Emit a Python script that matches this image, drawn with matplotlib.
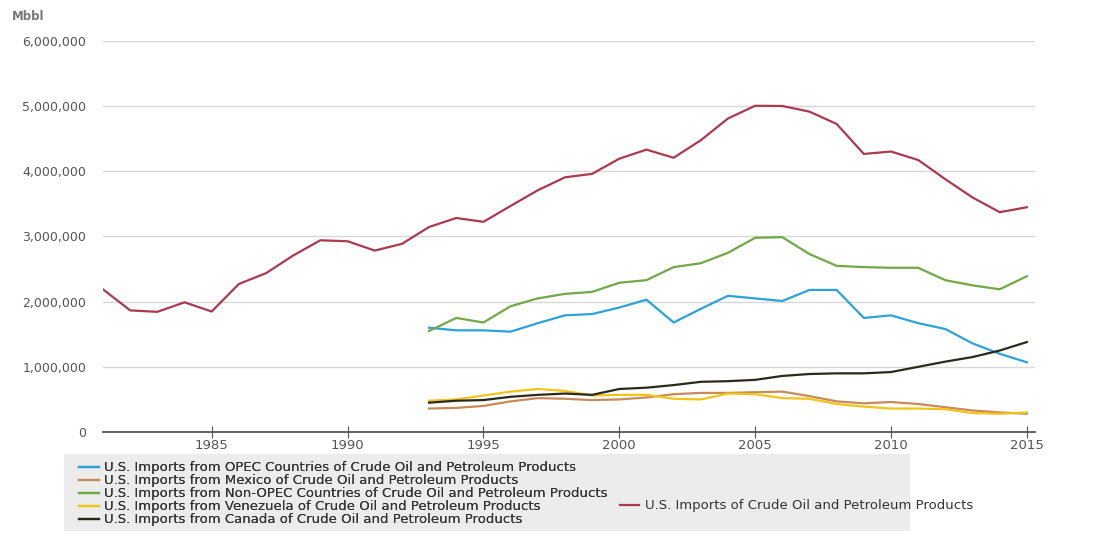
import numpy as np
import matplotlib
matplotlib.use("Agg")
import matplotlib.pyplot as plt
from matplotlib.patches import Rectangle
from matplotlib.ticker import FuncFormatter

years_total = list(range(1981, 2016))
total = [2189, 1866, 1844, 1990, 1849, 2272, 2437, 2709, 2942, 2927,
         2784, 2887, 3146, 3284, 3225, 3469, 3709, 3908, 3961, 4194,
         4333, 4208, 4477, 4811, 5006, 5003, 4916, 4727, 4267, 4304,
         4174, 3879, 3599, 3373, 3449]

years = list(range(1993, 2016))
opec = [1600, 1560, 1560, 1540, 1670, 1790, 1810, 1910, 2030, 1680,
        1890, 2090, 2050, 2010, 2180, 2180, 1750, 1790, 1670, 1580,
        1360, 1200, 1070]
mexico = [360, 370, 400, 470, 520, 510, 490, 500, 530, 580,
          600, 600, 610, 620, 550, 470, 440, 460, 430, 380,
          330, 300, 280]
non_opec = [1550, 1750, 1680, 1930, 2050, 2120, 2150, 2290, 2330, 2530,
            2590, 2750, 2980, 2990, 2730, 2550, 2530, 2520, 2520, 2330,
            2250, 2190, 2390]
venezuela = [480, 500, 560, 620, 660, 630, 560, 570, 570, 510,
             500, 590, 580, 520, 510, 430, 390, 360, 360, 350,
             290, 280, 300]
canada = [450, 480, 490, 540, 570, 590, 570, 660, 680, 720,
          770, 780, 800, 860, 890, 900, 900, 920, 1000, 1080,
          1150, 1250, 1380]

labels = [
    "U.S. Imports from OPEC Countries of Crude Oil and Petroleum Products",
    "U.S. Imports from Mexico of Crude Oil and Petroleum Products",
    "U.S. Imports from Non-OPEC Countries of Crude Oil and Petroleum Products",
    "U.S. Imports from Venezuela of Crude Oil and Petroleum Products",
    "U.S. Imports of Crude Oil and Petroleum Products",
    "U.S. Imports from Canada of Crude Oil and Petroleum Products",
]
colors = ["#2ba3d8", "#c98a5a", "#72a846", "#f2c41a", "#ab3a4e", "#2a2a1c"]

W, H = 1114, 533
fig = plt.figure(figsize=(W / 100, H / 100), dpi=100)
ax = fig.add_axes([103 / W, 1 - 432 / H, (1035 - 103) / W, (432 - 41) / H])

k = 1000  # values above in thousands of Mbbl
h_opec, = ax.plot(years, np.array(opec) * k, color=colors[0], lw=1.6)
h_mex, = ax.plot(years, np.array(mexico) * k, color=colors[1], lw=1.6)
h_non, = ax.plot(years, np.array(non_opec) * k, color=colors[2], lw=1.6)
h_ven, = ax.plot(years, np.array(venezuela) * k, color=colors[3], lw=1.6)
h_tot, = ax.plot(years_total, np.array(total) * k, color=colors[4], lw=1.6)
h_can, = ax.plot(years, np.array(canada) * k, color=colors[5], lw=1.6)

ax.set_xlim(1981, 2015.3)
ax.set_ylim(0, 6000000)
ax.set_yticks(range(0, 6000001, 1000000))
ax.yaxis.set_major_formatter(FuncFormatter(lambda v, p: f"{int(v):,}"))
ax.set_xticks(range(1985, 2016, 5))
ax.grid(axis="y", color="#d8d8d8", lw=1)
ax.set_axisbelow(True)
for s in ["top", "right", "left"]:
    ax.spines[s].set_visible(False)
ax.spines["bottom"].set_color("#555555")
ax.spines["bottom"].set_linewidth(1.3)
ax.tick_params(axis="y", length=0, pad=12, labelsize=9, labelcolor="#555555")
ax.tick_params(axis="x", direction="inout", length=8, color="#555555",
               pad=1, labelsize=9.5, labelcolor="#555555")

fig.text(12 / W, 1 - 17 / H, "Mbbl", fontsize=8.5, color="#777777",
         fontweight="bold", va="center")

# legend background
fig.patches.append(Rectangle((64 / W, 1 - 531 / H), (910 - 64) / W, (531 - 454) / H,
                             transform=fig.transFigure, facecolor="#ececec",
                             edgecolor="none", zorder=0))

leg_kw = dict(frameon=False, fontsize=9.5, handlelength=1.5,
              handletextpad=0.4, labelcolor="#333333")
leg1 = fig.legend([h_opec, h_mex, h_non, h_ven, h_can],
                  [labels[0], labels[1], labels[2], labels[3], labels[5]],
                  loc="upper left", bbox_to_anchor=(70 / W, 1 - 452 / H),
                  labelspacing=0.0, borderpad=0.2, **leg_kw)
fig.add_artist(leg1)
fig.legend([h_tot], [labels[4]], loc="center left",
           bbox_to_anchor=(613 / W, 1 - 506 / H), borderpad=0.0, **leg_kw)

fig.savefig("out.png", dpi=100)
